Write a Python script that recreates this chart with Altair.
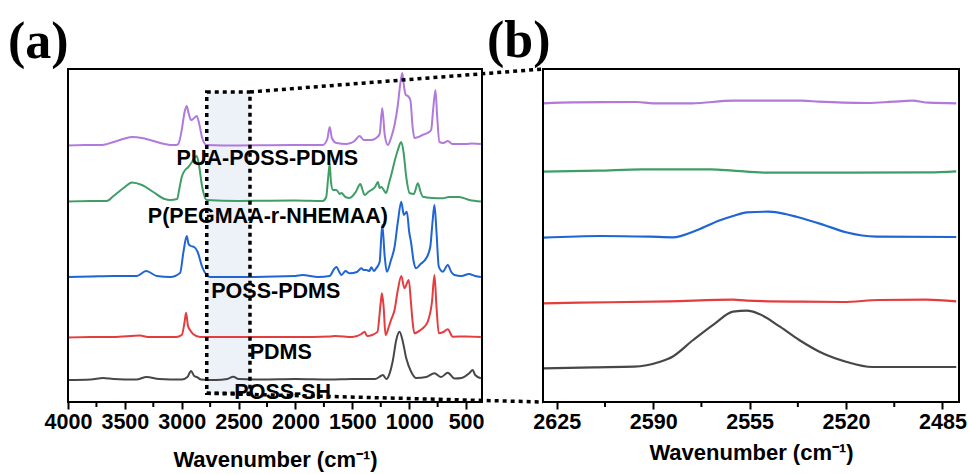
import altair as alt
import pandas as pd

# ---------------- data: panel (a) full spectra ----------------
series = ["PUA-POSS-PDMS", "P(PEGMAA-r-NHEMAA)", "POSS-PDMS", "PDMS", "POSS-SH"]
colors = ["#B07ADC", "#3E9E66", "#1F65D3", "#E43D40", "#474747"]

puapp_wn = [4000,3850,3700,3600,3500,3436,3350,3278,3150,3100,3050,3030,3000,2975,2956,2940,2918,2890,2868,2850,
            2820,2781,2500,2000,1760,1720,1699,1680,1640,1550,1480,1436,1400,1334,1290,1260,1237,1215,1188,1160,
            1129,1100,1080,1061,1045,1030,1012,990,970,954,920,883,840,807,790,769,755,734,700,661,620,500,450,370]
puapp_ab = [256.5,257,257,260,263.5,265,264,262,258,257,257,258,272,290,296,289,282,284,286,280,
            264,257,256.5,257,257,263,275,264,259,258,261,266,262,262,264,268,294,267,257,264,
            277,297,317,329,315,307,306,302,275,264,265,267,269,272,292,312,287,260,259,261,258,258,258.5,258]

pegm_wn = [4000,3800,3659,3600,3500,3439,3350,3250,3150,3103,3040,3023,3000,2970,2942,2910,2880,2868,2850,2820,
           2781,2500,2000,1760,1730,1712,1699,1688,1670,1640,1610,1596,1560,1524,1470,1430,1410,1392,1360,1334,
           1300,1275,1260,1246,1202,1180,1158,1130,1100,1070,1050,1026,997,960,924,900,880,800,705,650,560,470,370]
pegm_ab = [200.5,201,201,206,215,219.5,217,210,203,202,203,212,225,232,235,240,245,246,238,215,
           202,201,201.5,201,205,225,238,220,212,212,208,209,205,204,210,218,212,207,210,212,
           215,220,214,215,209,218,227,240,252,260,250,225,209,208,218.7,210,205.3,204,203.7,205,205,202,200.5]

posspdms_wn = [4000,3800,3600,3395,3313,3219,3100,3015,2985,2956,2940,2920,2890,2860,2820,2750,2500,2000,1940,1800,
               1700,1660,1640,1610,1596,1560,1524,1460,1421,1400,1377,1350,1334,1310,1290,1260,1237,1215,1197,1160,
               1129,1100,1070,1047,1021,1000,983,960,939,900,851,815,795,778,760,740,705,661,630,602,540,475,420,370]
posspdms_ab = [125,125.5,126,126,131,126,125,129,150,166,158,156,155,150,135,125,125,126,127,125,
               126,133,135,129,127,131,128.7,130,133.7,132,132,131,134.7,131,133.7,140,177,145,130.3,142,
               155,180,200.3,187,190.3,170,159,140,133.7,138,143.7,155,180,197,170,135.3,130.3,137,130,127,126,128,126,125]

pdms_wn = [4000,3800,3600,3366,3300,3050,3000,2975,2962,2945,2927,2900,2839,2500,2000,1700,1650,1500,1420,1392,
           1370,1280,1250,1240,1225,1208,1180,1160,1129,1100,1070,1042,1004,985,970,954,900,866,837,800,
           778,760,740,700,661,617,500,370]
pdms_ab = [64.5,65,65,66.5,65,65,67,80,89.3,76,72,68,65,65,65,65.5,66,65,68,70.3,
           66,70,100,108.7,95,67,75,82,92,112,126,113.7,122,100,80,68.7,72,75.3,80.3,100,
           127,95,68.7,70,72.7,65.3,65.5,65]

posssh_wn = [4000,3800,3690,3600,3400,3308,3200,3000,2950,2918,2890,2868,2830,2700,2600,2547,2500,2300,2000,1700,
             1500,1300,1250,1232,1200,1172,1143,1114,1085,1056,1026,983,939,850,778,720,661,600,540,470,442,420,370]
posssh_ab = [22,22.5,24,23,22.5,25,23,22.5,25,31,26,25,22.5,22,23,25.3,23,22.5,23,22.5,
             23,23,26,27,23,28.7,42,62,70.3,60.3,43.7,30.3,24,25,28.7,25,29.3,23.5,24,29,32,27,23.7]

# label positions (wavenumber, intensity)
label_wn = [2247, 2243, 2173, 2129, 2112]
label_ab = [243, 185.3, 110.3, 49, 9]

# ---------------- data: panel (b) zoomed region ----------------
b_puapp_wn = [2630,2619,2596,2590,2576,2561,2536,2530,2521,2512,2503,2496,2490,2480]
b_puapp_ab = [298.7,299.7,300,298.7,298.7,301.3,301.3,300.3,299.3,299,300.3,301.3,299.3,298.7]
b_pegm_wn = [2630,2610,2594,2569,2561,2548,2520,2490,2480]
b_pegm_ab = [230.3,231.3,232.7,232.7,231.3,229.3,229.3,229.7,230.7]
b_posspdms_wn = [2630,2609,2591,2583,2574,2566,2561,2556,2548,2542,2538,2528,2520,2509,2480]
b_posspdms_ab = [164.3,166,165.3,164.7,172,181.5,186,189.7,190.3,188,185.3,177,169.7,165.3,165]
b_pdms_wn = [2630,2617,2584,2561,2556,2536,2521,2508,2491,2480]
b_pdms_ab = [98.7,99.3,100.7,102.3,101.3,100.3,100,102,102.3,100.7]
b_posssh_wn = [2630,2611.5,2597,2587.5,2583,2575.5,2568,2561,2556,2551.5,2544,2537,2528.5,2520,2510.5,2480]
b_posssh_ab = [33.7,34.7,35.3,40.3,45.3,62,77.7,90.3,91.3,88,75.3,62,48.7,40.3,35,35]

# axis ranges / ticks
a_domain = [4000, 360]
a_ticks = [4000, 3500, 3000, 2500, 2000, 1500, 1000, 500]
a_minor = [3750, 3250, 2750, 2250, 1750, 1250, 750]
b_domain = [2630, 2479]
b_ticks = [2625, 2590, 2555, 2520, 2485]
b_minor = [2607.5, 2572.5, 2537.5, 2502.5]
y_domain = [0, 333]
zoom_box = {"x": 2780, "x2": 2400, "y": 8.7, "y2": 310}

# ---------------- build tables ----------------
a_data = {series[0]: (puapp_wn, puapp_ab), series[1]: (pegm_wn, pegm_ab), series[2]: (posspdms_wn, posspdms_ab),
          series[3]: (pdms_wn, pdms_ab), series[4]: (posssh_wn, posssh_ab)}
b_data = {series[0]: (b_puapp_wn, b_puapp_ab), series[1]: (b_pegm_wn, b_pegm_ab), series[2]: (b_posspdms_wn, b_posspdms_ab),
          series[3]: (b_pdms_wn, b_pdms_ab), series[4]: (b_posssh_wn, b_posssh_ab)}
df_a = pd.DataFrame([{"s": s, "wn": w, "v": v} for s, (ws, vs) in a_data.items() for w, v in zip(ws, vs)])
df_b = pd.DataFrame([{"s": s, "wn": w, "v": v} for s, (ws, vs) in b_data.items() for w, v in zip(ws, vs)])
df_lab = pd.DataFrame({"s": series, "wn": label_wn, "v": label_ab})

W_A = 414
B_LEFT, B_RIGHT = 475, 891
FONT = "Liberation Sans"

def axis(values, title_pad):
    return alt.Axis(values=values, format="d", title="Wavenumber (cm\u207b\u00b9)", orient="bottom", domain=False,
                    grid=False, tickSize=7, tickWidth=2, tickColor="black", labelFont=FONT, labelFontSize=21.5,
                    labelFontWeight="bold", labelColor="black", labelPadding=2, labelFlush=False, labelOverlap=False,
                    titleFont=FONT, titleFontSize=22, titleFontWeight="bold", titleColor="black", titlePadding=title_pad)

scale_a = alt.Scale(domain=a_domain, range=[0, W_A], nice=False, zero=False)
scale_b = alt.Scale(domain=b_domain, range=[B_LEFT, B_RIGHT], nice=False, zero=False)
ax_a = axis(a_ticks, 17)
ax_b = axis(b_ticks, 10)
yscale = alt.Scale(domain=y_domain, nice=False, zero=False)

def xa(f):
    return alt.X(f"{f}:Q", scale=scale_a, axis=ax_a)

def xb(f):
    return alt.X(f"{f}:Q", scale=scale_b, axis=ax_b)

def yy(f):
    return alt.Y(f"{f}:Q", scale=yscale, axis=None)

color = alt.Color("s:N", scale=alt.Scale(domain=series, range=colors), legend=None)

# ---------- panel (a) ----------
box_df = pd.DataFrame([zoom_box])
fill_a = alt.Chart(box_df).mark_rect(color="#EDF1F8").encode(x=xa("x"), x2="x2", y=yy("y"), y2="y2")
lines_a = alt.Chart(df_a).mark_line(strokeWidth=2, interpolate="monotone").encode(
    x=xa("wn"), y=yy("v"), color=color, detail="s:N")
labels_a = alt.Chart(df_lab).mark_text(font=FONT, fontSize=21.5, fontWeight="bold", color="black",
                                       align="center", baseline="middle").encode(x=xa("wn"), y=yy("v"), text="s:N")
dot_box = alt.Chart(box_df).mark_rect(filled=False, stroke="black", strokeWidth=3.5, strokeDash=[4, 4]).encode(
    x=xa("x"), x2="x2", y=yy("y"), y2="y2")
# connectors from the box to the left corners of panel (b)
b_left_in_a = a_domain[0] - (a_domain[0] - a_domain[1]) * B_LEFT / W_A
conn_df = pd.DataFrame([
    {"x": zoom_box["x2"], "y": zoom_box["y2"], "x2": b_left_in_a, "y2": y_domain[1]},
    {"x": zoom_box["x"], "y": zoom_box["y"], "x2": b_left_in_a, "y2": y_domain[0]},
])
conn = alt.Chart(conn_df).mark_rule(stroke="black", strokeWidth=3.5, strokeDash=[4, 4]).encode(
    x=xa("x"), x2="x2", y=yy("y"), y2="y2")
minor_a = alt.Chart(pd.DataFrame({"m": a_minor})).mark_rule(stroke="black", strokeWidth=2).encode(
    x=xa("m"), y=alt.value(333), y2=alt.value(338))
frame_a = alt.Chart(pd.DataFrame([{"x": a_domain[0], "x2": a_domain[1], "y": y_domain[0], "y2": y_domain[1]}])).mark_rect(
    filled=False, stroke="black", strokeWidth=2).encode(x=xa("x"), x2="x2", y=yy("y"), y2="y2")
tag_a = alt.Chart(pd.DataFrame({"t": ["(a)"]})).mark_text(
    font="Liberation Serif", fontSize=52, fontWeight="bold", color="black", align="left", baseline="alphabetic").encode(
    x=alt.value(-60), y=alt.value(-11), text="t:N")

layer_a = alt.layer(fill_a, minor_a, lines_a, labels_a, dot_box, conn, frame_a, tag_a)

# ---------- panel (b) ----------
lines_b = alt.Chart(df_b).mark_line(strokeWidth=2.2, interpolate="monotone").encode(
    x=xb("wn"), y=yy("v"), color=color, detail="s:N")
minor_b = alt.Chart(pd.DataFrame({"m": b_minor})).mark_rule(stroke="black", strokeWidth=2).encode(
    x=xb("m"), y=alt.value(333), y2=alt.value(338))
frame_b = alt.Chart(pd.DataFrame([{"x": b_domain[0], "x2": b_domain[1], "y": y_domain[0], "y2": y_domain[1]}])).mark_rect(
    filled=False, stroke="black", strokeWidth=2).encode(x=xb("x"), x2="x2", y=yy("y"), y2="y2")
tag_b = alt.Chart(pd.DataFrame({"t": ["(b)"]})).mark_text(
    font="Liberation Serif", fontSize=52, fontWeight="bold", color="black", align="left", baseline="alphabetic").encode(
    x=alt.value(419), y=alt.value(-12), text="t:N")

layer_b = alt.layer(minor_b, lines_b, frame_b, tag_b)

chart = alt.layer(layer_a, layer_b).resolve_scale(x="independent").properties(
    width=891, height=333,
    autosize=alt.AutoSizeParams(type="none"),
    padding={"left": 68, "top": 69, "right": 10, "bottom": 72},
).configure_view(stroke=None)

chart.save("out.html", embed_options={"renderer": "svg", "actions": False})
